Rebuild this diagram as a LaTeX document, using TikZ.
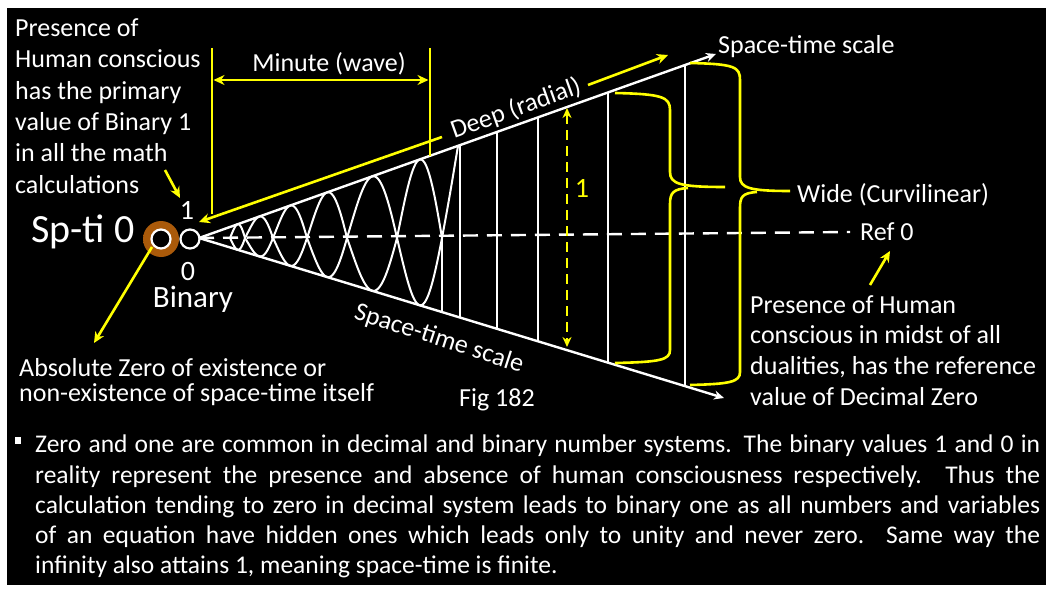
\documentclass[tikz,border=0pt]{standalone}
\usepackage{fontspec}
\setmainfont{Carlito}
\usetikzlibrary{arrows.meta}
\definecolor{yel}{RGB}{255,255,0}
\definecolor{glowc}{RGB}{170,90,10}
\pgfdeclareradialshading{glowsh}{\pgfpoint{0bp}{0bp}}{color(0bp)=(glowc); color(26bp)=(glowc); color(38bp)=(glowc!45!black); color(50bp)=(black)}
\newcommand\fsz[1]{\fontsize{#1}{#1}\selectfont}
\begin{document}
\begin{tikzpicture}[x=1pt,y=-1pt,
  wline/.style={white,line width=2.4pt},
  vline/.style={white,line width=2pt},
  wave/.style={white,line width=2pt},
  yline/.style={yel,line width=2.6pt},
  wtxt/.style={text=white,inner sep=0pt,font=\fsz{26}},
  ytxt/.style={text=yel,inner sep=0pt,font=\fsz{28}},
  ptxt/.style={text=white,inner sep=0pt,font=\fsz{25.5},anchor=base west},
  ytip/.style={-{Stealth[length=11pt,width=10pt]}},
  wtip/.style={-{Stealth[length=10pt,width=9pt]}},
  ring/.style={circle,draw=white,fill=black,line width=2.2pt,minimum size=19pt,inner sep=0pt}
]
\fill[white] (0,0) rectangle (1046,591);
\fill[black] (7,8) rectangle (1046,585);
\useasboundingbox (0,0) rectangle (1046,591);

% glow and rings
\shade[shading=glowsh] (161,239) circle (18);
\node[ring] (c1) at (161,239) {};
\node[ring] (c2) at (190,239) {};

% cone
\coordinate (apex) at (199,238);
\coordinate (ut) at (716,54);
\coordinate (lt) at (724,398);
\coordinate (refend) at (850,232);
\draw[white,line width=2.4pt,dash pattern=on 15pt off 9pt] (apex) -- (refend);
\draw[wline,wtip] (apex) -- (ut);
\draw[wline,wtip] (apex) -- (lt);

% scale lines
\foreach \vx in {460,497,538,608,685}
  \draw[vline] (\vx,{238-0.3559*(\vx-199)}) -- (\vx,{238+0.3048*(\vx-199)});

% waves
\foreach \a/\b in {230/245,245/273,273/307,307/347,347/397,397/442}{
  \draw[wave] plot[domain=\a:\b,samples=30,smooth] (\x,{238-0.3559*(\x-199)*sin(180*(\x-\a)/(\b-\a))});
  \draw[wave] plot[domain=\a:\b,samples=30,smooth] (\x,{238+0.3048*(\x-199)*sin(180*(\x-\a)/(\b-\a))});
}
\draw[wave] (442,238) .. controls (449,200) .. (458,146);
\draw[wave] (442,238) -- (442,312);

% labels near apex
\node[wtxt,font=\fsz{40},anchor=base west] (spti) at (31,242) {Sp-ti 0};
\node[wtxt,font=\fsz{28},anchor=base] (one) at (187,219) {1};
\node[wtxt,font=\fsz{28},anchor=base] (zero) at (188,280) {0};
\node[wtxt,font=\fsz{31},anchor=base] (bin) at (193,307) {Binary};

% top-left text
\foreach \t [count=\i from 0] in {Presence of,Human conscious,has the primary,value of Binary 1,in all the math,calculations}
  \node[wtxt,anchor=base west] (tl\i) at (15,{36.7+31.3*\i}) {\t};
\coordinate (calcA) at (165,170);
\coordinate (oneA) at (180,198);
\draw[yline,ytip] (calcA) -- (oneA);

% absolute zero text
\node[wtxt,anchor=base west] (abs1) at (19,376) {Absolute Zero of existence or};
\node[wtxt,anchor=base west] (abs2) at (19,401) {non-existence of space-time itself};
\coordinate (absA) at (152,247);
\coordinate (absB) at (94,343);
\draw[yline,ytip] (absA) -- (absB);

% minute (wave)
\coordinate (m1t) at (212,48);
\coordinate (m1b) at (212,214);
\coordinate (m2t) at (430,48);
\coordinate (m2b) at (430,156);
\draw[yline] (m1t) -- (m1b);
\draw[yline] (m2t) -- (m2b);
\draw[yline,{Stealth[length=11pt,width=10pt]}-{Stealth[length=11pt,width=10pt]}] (213.5,80) -- (428.5,80);
\node[wtxt] (minute) at (329,64) {Minute (wave)};

% deep (radial)
\coordinate (d1) at (442,137);
\coordinate (d1tip) at (199,222);
\coordinate (d2) at (588,85);
\coordinate (d2tip) at (668,55);
\draw[yline,ytip] (d1) -- (d1tip);
\draw[yline,ytip] (d2) -- (d2tip);
\node[wtxt,rotate=19.6] (deep) at (516,109) {Deep (radial)};

% space-time scale labels
\node[wtxt,anchor=base west] (stsU) at (718,54) {Space-time scale};
\node[wtxt,rotate=-18] (stsL) at (439,339) {Space-time scale};
\node[wtxt,anchor=base west] (fig) at (459,406) {Fig 182};

% unit arrow
\draw[yline,dash pattern=on 10pt off 6pt,{Stealth[length=10pt,width=9pt]}-{Stealth[length=10pt,width=9pt]}] (567,108) -- (567,347);
\node[ytxt,anchor=base] (unit) at (582,197) {1};

% braces
\draw[yline] (615,93) .. controls (662,94) and (670,97) .. (670,110) -- (670,172) .. controls (670,184) and (680,187) .. (725,187);
\draw[yline] (688,188) .. controls (673,189) and (670,193) .. (670,204) -- (670,350) .. controls (670,360) and (660,362) .. (615,363);
\draw[yline] (690,63) .. controls (735,64) and (740,67) .. (740,80) -- (740,177) .. controls (740,188) and (750,191) .. (790,191);
\draw[yline] (757,192) .. controls (742,193) and (740,197) .. (740,208) -- (740,372) .. controls (740,382) and (730,384) .. (690,385);
\node[wtxt,anchor=base west] (wide) at (797,202) {Wide (Curvilinear)};

% ref 0
\node[wtxt,anchor=base west] (ref) at (860,240) {Ref 0};
\coordinate (rA) at (870,285);
\coordinate (rB) at (890,251);
\draw[yline,ytip] (rA) -- (rB);
\foreach \t [count=\i from 0] in {Presence of Human,conscious in midst of all,{dualities, has the reference},value of Decimal Zero}
  \node[wtxt,anchor=base west] (tr\i) at (750,{313+30.7*\i}) {\t};

% bottom paragraph
\fill[white] (15,437) rectangle (21,444);
\node[ptxt] (p1) at (35,452) {\makebox[1005pt][s]{Zero and one are common in decimal and binary number systems. The binary values 1 and 0 in}};
\node[ptxt] (p2) at (35,483) {\makebox[1005pt][s]{reality represent the presence and absence of human consciousness respectively. Thus the}};
\node[ptxt] (p3) at (35,513) {\makebox[1005pt][s]{calculation tending to zero in decimal system leads to binary one as all numbers and variables}};
\node[ptxt] (p4) at (35,543) {\makebox[1005pt][s]{of an equation have hidden ones which leads only to unity and never zero. Same way the}};
\node[ptxt] (p5) at (35,573) {infinity also attains 1, meaning space-time is finite.};
\end{tikzpicture}
\end{document}
